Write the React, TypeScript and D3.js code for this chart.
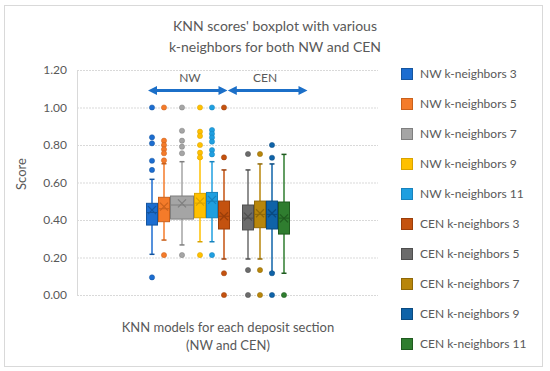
import React from "react";
import * as d3 from "d3";

const seriesNames = [
  "NW k-neighbors 3", "NW k-neighbors 5", "NW k-neighbors 7", "NW k-neighbors 9", "NW k-neighbors 11",
  "CEN k-neighbors 3", "CEN k-neighbors 5", "CEN k-neighbors 7", "CEN k-neighbors 9", "CEN k-neighbors 11",
];
const q1Values = [0.373, 0.391, 0.405, 0.412, 0.412, 0.352, 0.347, 0.359, 0.352, 0.325];
const medianValues = [0.44, 0.46, 0.48, 0.49, 0.5, 0.42, 0.41, 0.43, 0.43, 0.41];
const q3Values = [0.489, 0.521, 0.528, 0.542, 0.547, 0.501, 0.48, 0.501, 0.501, 0.496];
const meanValues = [0.453, 0.471, 0.489, 0.498, 0.507, 0.42, 0.418, 0.436, 0.436, 0.409];
const whiskerLow = [0.217, 0.293, 0.267, 0.284, 0.284, 0.192, 0.192, 0.192, 0.121, 0.116];
const whiskerHigh = [0.617, 0.7, 0.711, 0.729, 0.711, 0.667, 0.667, 0.699, 0.699, 0.75];
const outlierValues = [
  [1.0, 0.841, 0.809, 0.716, 0.667, 0.094],
  [1.0, 0.823, 0.8, 0.777, 0.756, 0.718, 0.213],
  [1.0, 0.876, 0.823, 0.791, 0.756, 0.213],
  [1.0, 0.871, 0.848, 0.8, 0.759, 0.734, 0.213],
  [1.0, 0.88, 0.86, 0.84, 0.818, 0.773, 0.75, 0.213],
  [1.0, 0.734, 0.116, 0.0],
  [0.752, 0.133, 0.0],
  [0.752, 0.133, 0.0],
  [0.8, 0.732, 0.116, 0.0],
  [0.0],
];
const yTicks = [0, 0.2, 0.4, 0.6, 0.8, 1.0, 1.2];
const groupLabels = ["NW", "CEN"];

const fills = ["#1c6dd0", "#f47b2a", "#a5a5a5", "#ffc000", "#1f9fe0", "#c4520f", "#6b6b6b", "#b8860b", "#0f63a8", "#2f7d2f"];
const strokes = ["#15559f", "#c9611c", "#7f7f7f", "#d9a300", "#1782bd", "#9a3e0a", "#4e4e4e", "#8f6808", "#0a4a80", "#1f5a1f"];

// slot layout (Excel rendering quirk: series 3 wider, a gap before CEN 5)
const SLOT_START = [0, 1, 2, 4, 5, 6, 8, 9, 10, 11];
const SLOT_LEN = [1, 1, 2, 1, 1, 1, 1, 1, 1, 1];

const FONT = "Lato, 'Open Sans', sans-serif";
const TXT = "#595959";

export default function App() {
  const W = 550, H = 371;
  const plotL = 77, plotR = 378;
  const y = d3.scaleLinear().domain([0, 1.2]).range([295, 70]);
  const x = d3.scaleLinear().domain([0, 12]).range([146, 290]);

  const arrowY = 90.5;
  const arrowSegs = [
    [148, 227.5],
    [227.8, 307.5],
  ];
  const labelX = [190, 265];

  const arrowPath = (a: number, b: number) => {
    const hl = 9, hh = 4.5, t = 1.5;
    return `M${a},${arrowY} L${a + hl},${arrowY - hh} L${a + hl},${arrowY - t} L${b - hl},${arrowY - t} L${b - hl},${arrowY - hh} L${b},${arrowY} L${b - hl},${arrowY + hh} L${b - hl},${arrowY + t} L${a + hl},${arrowY + t} L${a + hl},${arrowY + hh} Z`;
  };

  return (
    <svg width={W} height={H} style={{ position: "absolute", left: 0, top: 0, background: "#fff" }}>
      <rect x={4.5} y={5.5} width={538} height={361} fill="#fff" stroke="#d9d9d9" />
      <text x={275} y={31} textAnchor="middle" fontFamily={FONT} fontSize={14} fill={TXT}>
        KNN scores' boxplot with various
      </text>
      <text x={275} y={52} textAnchor="middle" fontFamily={FONT} fontSize={14} fill={TXT}>
        k-neighbors for both NW and CEN
      </text>

      {/* gridlines */}
      {yTicks.map((t) => (
        <g key={t}>
          <line x1={plotL} x2={plotR} y1={y(t) + 0.5} y2={y(t) + 0.5} stroke="#d9d9d9" strokeDasharray="2,1" />
          <text x={67} y={y(t) + 4} textAnchor="end" fontFamily={FONT} fontSize={12} fill={TXT}>
            {t.toFixed(2)}
          </text>
        </g>
      ))}
      <line x1={plotL + 0.5} x2={plotL + 0.5} y1={y(1.2)} y2={y(0)} stroke="#d9d9d9" />

      <text transform="translate(26,174) rotate(-90)" textAnchor="middle" fontFamily={FONT} fontSize={13} fill={TXT}>
        Score
      </text>

      {/* group arrows */}
      {arrowSegs.map(([a, b], i) => (
        <g key={i}>
          <path d={arrowPath(a, b)} fill="#1b6fc8" />
          <text x={labelX[i]} y={82} textAnchor="middle" fontFamily={FONT} fontSize={12} fill={TXT}>
            {groupLabels[i]}
          </text>
        </g>
      ))}

      {/* boxes */}
      {seriesNames.map((name, i) => {
        const x0 = x(SLOT_START[i]);
        const x1 = x(SLOT_START[i] + SLOT_LEN[i]);
        const cx = (x0 + x1) / 2;
        const cap = 2.5;
        const mx = 4, my = 4;
        return (
          <g key={name}>
            <line x1={cx} x2={cx} y1={y(whiskerHigh[i])} y2={y(q3Values[i])} stroke={fills[i]} strokeWidth={1.5} />
            <line x1={cx} x2={cx} y1={y(q1Values[i])} y2={y(whiskerLow[i])} stroke={fills[i]} strokeWidth={1.5} />
            <line x1={cx - cap} x2={cx + cap} y1={y(whiskerHigh[i])} y2={y(whiskerHigh[i])} stroke={strokes[i]} strokeWidth={1.5} />
            <line x1={cx - cap} x2={cx + cap} y1={y(whiskerLow[i])} y2={y(whiskerLow[i])} stroke={strokes[i]} strokeWidth={1.5} />
            <rect
              x={x0 + 0.5}
              y={y(q3Values[i])}
              width={x1 - x0 - 1}
              height={y(q1Values[i]) - y(q3Values[i])}
              fill={fills[i]}
              stroke={strokes[i]}
              strokeWidth={1}
            />
            <line x1={x0 + 0.5} x2={x1 - 0.5} y1={y(medianValues[i])} y2={y(medianValues[i])} stroke={strokes[i]} strokeWidth={1} />
            <path
              d={`M${cx - mx},${y(meanValues[i]) - my} L${cx + mx},${y(meanValues[i]) + my} M${cx - mx},${y(meanValues[i]) + my} L${cx + mx},${y(meanValues[i]) - my}`}
              stroke={strokes[i]}
              strokeWidth={1.2}
              fill="none"
            />
            {outlierValues[i].map((v, j) => (
              <circle key={j} cx={cx} cy={y(v)} r={2.6} fill={fills[i]} stroke={strokes[i]} strokeWidth={0.5} />
            ))}
          </g>
        );
      })}

      {/* x axis title */}
      <text x={228} y={332} textAnchor="middle" fontFamily={FONT} fontSize={13} fill={TXT}>
        KNN models for each deposit section
      </text>
      <text x={228} y={350} textAnchor="middle" fontFamily={FONT} fontSize={13} fill={TXT}>
        (NW and CEN)
      </text>

      {/* legend */}
      {seriesNames.map((name, i) => (
        <g key={name} transform={`translate(401,${68 + i * 30})`}>
          <rect x={0.5} y={0.5} width={11} height={11} fill={fills[i]} stroke={strokes[i]} />
          <text x={19} y={10} fontFamily={FONT} fontSize={12} fill={TXT}>
            {name}
          </text>
        </g>
      ))}
    </svg>
  );
}
